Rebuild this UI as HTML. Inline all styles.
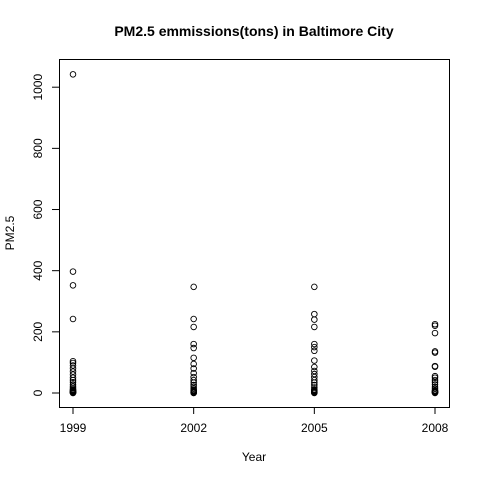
<!DOCTYPE html>
<html><head><meta charset="utf-8"><style>
body{margin:0;background:#fff}
svg{display:block;font-family:"Liberation Sans",sans-serif}
</style></head><body>
<svg id="chart" width="480" height="480">
<rect width="480" height="480" fill="#fff"/>
<text x="254" y="36" text-anchor="middle" font-size="14" font-weight="bold">PM2.5 emmissions(tons) in Baltimore City</text>
<text x="254" y="461" text-anchor="middle" font-size="12">Year</text>
<text transform="translate(14,233) rotate(-90)" text-anchor="middle" font-size="12">PM2.5</text>
<rect x="59.5" y="59.5" width="390" height="348" fill="none" stroke="#000"/>
<g id="axes"></g><g id="pts"></g>
</svg>
<script>
const years=[1999,2002,2005,2008];
const xTicks=[1999,2002,2005,2008];
const yTicks=[0,200,400,600,800,1000];
const v1999=[1042,397,352,242,104,98,90,80,70,60,50,42,35,28,22,16,12,10,8,6,5,4,3,2,1,0.5,0];
const v2002=[347,242,216,160,147,115,95,80,65,52,42,34,26,20,14,10,8,6,4,3,2,1,0.5,0];
const v2005=[347,258,240,216,160,150,138,106,85,72,62,52,42,34,26,18,12,10,8,6,4,3,2,1,0];
const v2008=[225,220,196,136,132,88,86,55,50,42,35,28,20,14,9,7,5,4,3,2,1,0];
const series=[v1999,v2002,v2005,v2008];
const NS="http://www.w3.org/2000/svg";
const X=y=>73+(y-1999)*(435-73)/9;
const Y=v=>393-v*0.3058;
function mk(t,a,p){const e=document.createElementNS(NS,t);for(const k in a)e.setAttribute(k,a[k]);p.appendChild(e);return e;}
const ax=document.getElementById('axes');
mk('line',{x1:X(1999),x2:X(2008),y1:407.5,y2:407.5,stroke:'#000'},ax);
xTicks.forEach(t=>{
 const l=mk('line',{x1:X(t),x2:X(t),y1:407,y2:414,stroke:'#000'},ax);
 
 
 const tx=mk('text',{x:X(t),y:432,'text-anchor':'middle','font-size':12},ax);tx.textContent=t;
 
 
});
mk('line',{x1:59.5,x2:59.5,y1:Y(0),y2:Y(1000),stroke:'#000'},ax);
yTicks.forEach(t=>{
 const l=mk('line',{x1:52,x2:59.5,y1:Y(t),y2:Y(t),stroke:'#000'},ax);
 
 
 const tx=mk('text',{transform:`translate(42,${Y(t)}) rotate(-90)`,'text-anchor':'middle','font-size':12},ax);tx.textContent=t;
 
 
});
const pg=document.getElementById('pts');
series.forEach((s,i)=>s.forEach(v=>{
 const c=mk('circle',{cx:X(years[i]),cy:Y(v),r:2.8,fill:'none',stroke:'#000','stroke-width':0.9},pg);
 
 
}));
</script>
</body></html>
